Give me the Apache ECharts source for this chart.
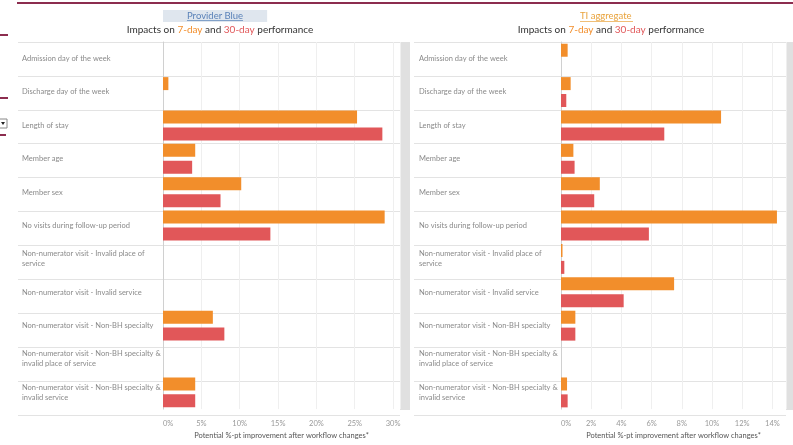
<!DOCTYPE html>
<html>
<head>
<meta charset="utf-8">
<script src="https://cdn.jsdelivr.net/npm/echarts@6/dist/echarts.min.js"></script>
<style>
html,body{margin:0;padding:0;background:#fff;}
#c{width:793px;height:445px;}
</style>
</head>
<body>
<div id="c"></div>
<script>
const categories = [
  "Admission day of the week",
  "Discharge day of the week",
  "Length of stay",
  "Member age",
  "Member sex",
  "No visits during follow-up period",
  "Non-numerator visit - Invalid place of\nservice",
  "Non-numerator visit - Invalid service",
  "Non-numerator visit - Non-BH specialty",
  "Non-numerator visit - Non-BH specialty &\ninvalid place of service",
  "Non-numerator visit - Non-BH specialty &\ninvalid service"
];
const providerBlue7 = [0, 0.7, 25.3, 4.2, 10.2, 28.9, 0, 0, 6.5, 0, 4.2];
const providerBlue30 = [0, 0, 28.6, 3.8, 7.5, 14.0, 0, 0, 8.0, 0, 4.2];
const tiAggregate7 = [0.44, 0.64, 10.6, 0.82, 2.57, 14.3, 0.1, 7.49, 0.95, 0, 0.4];
const tiAggregate30 = [0, 0.35, 6.84, 0.9, 2.2, 5.82, 0.22, 4.15, 0.95, 0, 0.44];
const leftTicks = { max: 30.9, interval: 5 };
const rightTicks = { max: 14.9, interval: 2 };

const ORANGE = '#f28e2b';
const RED = '#e15759';
const FONT = 'Lato, "Open Sans", sans-serif';
const TOP = 42, BOTTOM = 445 - 415;

const chart = echarts.init(document.getElementById('c'), null, {renderer: 'canvas'});

function titleRich(left) {
  return {
    text: 'Impacts on {o|7-day} and {r|30-day} performance',
    left: left, top: 20, textAlign: 'center',
    textStyle: {
      fontFamily: FONT, fontSize: 10, color: '#333', fontWeight: 'normal',
      rich: {
        o: {color: ORANGE, fontFamily: FONT, fontSize: 10},
        r: {color: RED, fontFamily: FONT, fontSize: 10}
      }
    }
  };
}

function xAx(gridIndex, ticks, show) {
  return {
    type: 'value', gridIndex: gridIndex, min: 0, max: ticks.max, interval: ticks.interval,
    show: show,
    name: 'Potential %-pt improvement after workflow changes*',
    nameLocation: 'middle', nameGap: 22,
    nameTextStyle: {fontFamily: FONT, fontSize: 7.5, color: '#555'},
    axisLine: {show: false}, axisTick: {show: false},
    axisLabel: {
      fontFamily: FONT, fontSize: 7.5, color: '#999', margin: 10,
      showMaxLabel: false, alignMinLabel: 'left',
      formatter: v => v + '%'
    },
    splitLine: {show: true, lineStyle: {color: '#efefef', width: 1}}
  };
}

function yBar(gridIndex, margin) {
  return {
    type: 'category', gridIndex: gridIndex, data: categories, inverse: true,
    axisLine: {show: true, lineStyle: {color: '#d0d0d0'}},
    axisTick: {show: false},
    splitLine: {show: false},
    axisLabel: {
      align: 'left', margin: margin, fontFamily: FONT, fontSize: 7.5,
      color: '#8a8a8a', lineHeight: 10
    }
  };
}

function yBg(gridIndex) {
  return {
    type: 'category', gridIndex: gridIndex, data: categories, inverse: true,
    axisLine: {show: false}, axisTick: {show: false}, axisLabel: {show: false},
    splitLine: {show: true, lineStyle: {color: '#e3e3e3', width: 1}}
  };
}

function bgX(gridIndex) {
  return {type: 'value', gridIndex: gridIndex, show: false, min: 0, max: 1, splitLine: {show: false}};
}

function barSeries(name, x, y, data, color) {
  return {
    type: 'bar', name: name, xAxisIndex: x, yAxisIndex: y, data: data,
    barWidth: 13, barGap: '30%', itemStyle: {color: color}, silent: true
  };
}

const option = {
  animation: false,
  backgroundColor: '#fff',
  title: [
    {
      text: 'Provider Blue', left: 163, top: 10,
      backgroundColor: '#dfe6ee', padding: [1, 24, 1, 24],
      textStyle: {fontFamily: FONT, fontSize: 9.5, color: '#5a82b8', fontWeight: 'normal'}
    },
    titleRich(215),
    {
      text: 'TI aggregate', left: 580, top: 10, padding: [1, 0, 1, 0],
      textStyle: {fontFamily: FONT, fontSize: 9.5, color: '#e9a33c', fontWeight: 'normal'}
    },
    titleRich(606)
  ],
  grid: [
    {left: 18, right: 793 - 400, top: TOP, bottom: BOTTOM},
    {left: 163, right: 793 - 400, top: TOP, bottom: BOTTOM},
    {left: 414, right: 793 - 786, top: TOP, bottom: BOTTOM},
    {left: 561, right: 793 - 786, top: TOP, bottom: BOTTOM}
  ],
  xAxis: [
    bgX(0),
    xAx(1, leftTicks, true),
    bgX(2),
    xAx(3, rightTicks, true)
  ],
  yAxis: [
    yBg(0),
    yBar(1, 141),
    yBg(2),
    yBar(3, 142)
  ],
  series: [
    barSeries('Provider Blue 7-day', 1, 1, providerBlue7, ORANGE),
    barSeries('Provider Blue 30-day', 1, 1, providerBlue30, RED),
    barSeries('TI aggregate 7-day', 3, 3, tiAggregate7, ORANGE),
    barSeries('TI aggregate 30-day', 3, 3, tiAggregate30, RED)
  ],
  graphic: [
    {type: 'rect', shape: {x: 17, y: 2, width: 776, height: 2}, style: {fill: '#8c2d4f'}, silent: true},
    {type: 'line', z: 20, shape: {x1: 187, y1: 20.5, x2: 243, y2: 20.5}, style: {stroke: '#5a82b8', lineWidth: 0.7}, silent: true},
    {type: 'line', z: 20, shape: {x1: 580, y1: 21.5, x2: 633, y2: 21.5}, style: {stroke: '#e9a33c', lineWidth: 0.7}, silent: true},
    {type: 'rect', shape: {x: 400, y: 42, width: 10, height: 368}, style: {fill: '#e0e0e0'}, silent: true},
    {type: 'rect', shape: {x: 786, y: 42, width: 7, height: 368}, style: {fill: '#e0e0e0'}, silent: true},
    {type: 'rect', shape: {x: 0, y: 34, width: 8, height: 2}, style: {fill: '#8c2d4f'}, silent: true},
    {type: 'rect', shape: {x: 0, y: 97, width: 8, height: 2}, style: {fill: '#8c2d4f'}, silent: true},
    {type: 'rect', shape: {x: 0, y: 134, width: 6, height: 2}, style: {fill: '#8c2d4f'}, silent: true},
    {type: 'rect', shape: {x: -1, y: 119, width: 8, height: 9}, style: {fill: '#fff', stroke: '#888', lineWidth: 1}, silent: true},
    {type: 'polygon', shape: {points: [[1, 122], [5, 122], [3, 125]]}, style: {fill: '#222'}, silent: true}
  ]
};
chart.setOption(option);
</script>
</body>
</html>
